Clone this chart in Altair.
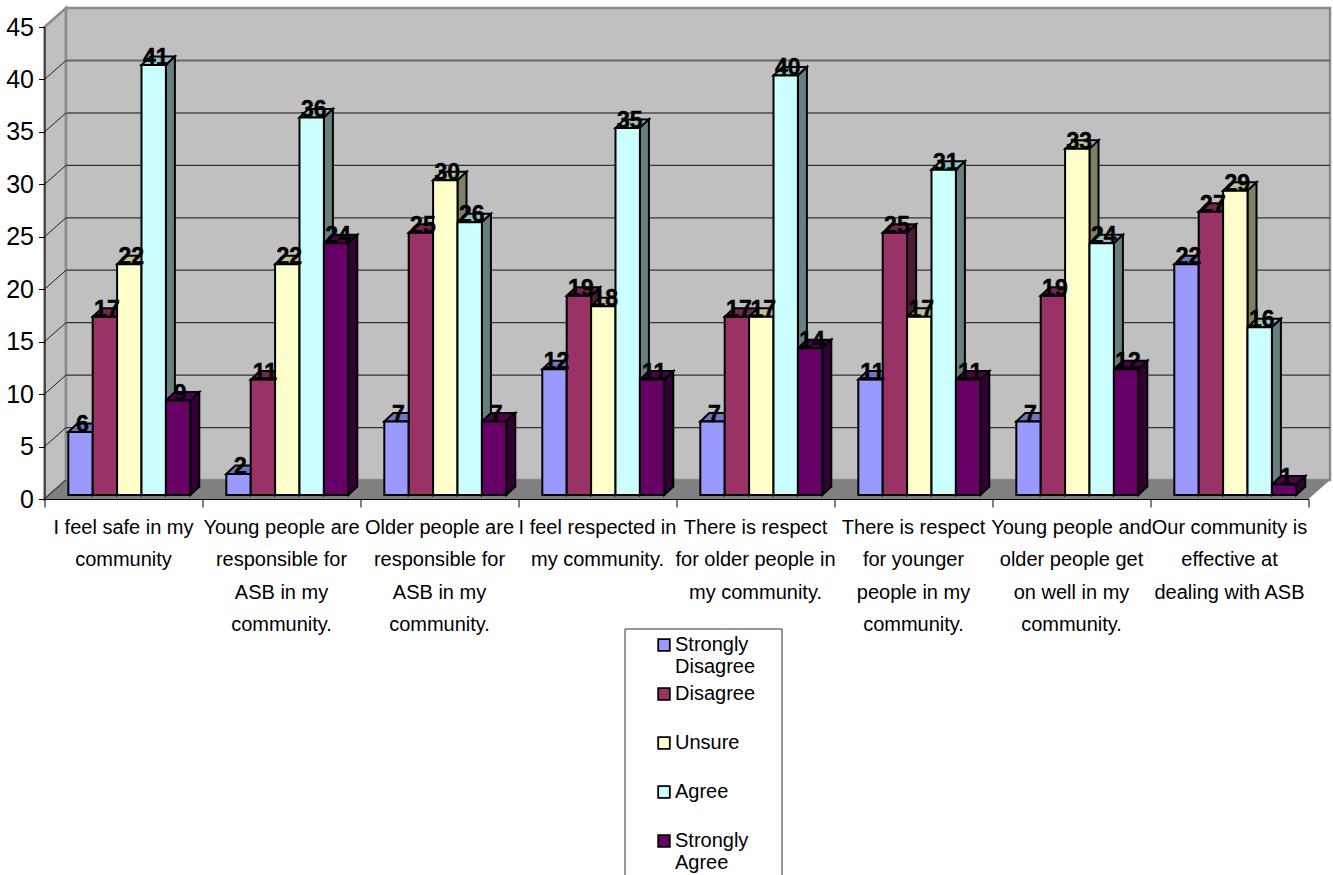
import altair as alt
import pandas as pd

categories = [
    "I feel safe in my\ncommunity",
    "Young people are\nresponsible for\nASB in my\ncommunity.",
    "Older people are\nresponsible for\nASB in my\ncommunity.",
    "I feel respected in\nmy community.",
    "There is respect\nfor older people in\nmy community.",
    "There is respect\nfor younger\npeople in my\ncommunity.",
    "Young people and\nolder people get\non well in my\ncommunity.",
    "Our community is\neffective at\ndealing with ASB",
]
series_names = ["Strongly Disagree", "Disagree", "Unsure", "Agree", "Strongly Agree"]
strongly_disagree = [6, 2, 7, 12, 7, 11, 7, 22]
disagree = [17, 11, 25, 19, 17, 25, 19, 27]
unsure = [22, 22, 30, 18, 17, 17, 33, 29]
agree = [41, 36, 26, 35, 40, 31, 24, 16]
strongly_agree = [9, 24, 7, 11, 14, 11, 12, 1]
series_values = [strongly_disagree, disagree, unsure, agree, strongly_agree]

front_colors = ["#9999FF", "#993366", "#FFFFCC", "#CCFFFF", "#660066"]
top_colors = ["#7373BF", "#732650", "#BFBF99", "#99BFBF", "#4D004D"]
side_colors = ["#4D4D80", "#4D1A33", "#808066", "#668080", "#330033"]

FONT = "Liberation Sans"
PX_X = 1264 / 8      # pixels per category
PX_Y = 472 / 45      # pixels per unit on the value axis

# Depth of the room and of the bars, in axis units
WALL_DX, WALL_DY = 21.5 / PX_X, 19 / PX_Y
BAR_DX, BAR_DY = 9 / PX_X, 8.5 / PX_Y
BAR_LIFT = 4 / PX_Y
BAR_START, BAR_W = 23.8 / PX_X, 24.4 / PX_X

x_scale = alt.Scale(domain=[0, 8], nice=False, zero=False)
y_scale = alt.Scale(domain=[0, 45], nice=False, zero=False)
ticks = list(range(0, 50, 5))

x_axis = alt.Axis(
    values=list(range(9)), labels=False, title=None, grid=False, tickSize=8, tickColor="black",
    tickWidth=1, domainColor="black", zindex=1,
)
y_axis = alt.Axis(
    values=ticks, title=None, grid=False, tickSize=6, tickColor="black", tickWidth=1, domainColor="black",
    labelFont=FONT, labelFontSize=25, labelColor="black", labelPadding=5, zindex=1,
)
X = alt.X("x:Q", scale=x_scale, axis=x_axis)
Y = alt.Y("y:Q", scale=y_scale, axis=y_axis, stack=None)

fronts, faces, labels = [], [], []
for s, (name, values) in enumerate(zip(series_names, series_values)):
    for i, v in enumerate(values):
        left = i + BAR_START + s * BAR_W
        right = left + BAR_W
        low = BAR_LIFT
        high = v + BAR_LIFT
        fronts.append(dict(series=name, x=left, x2=right, y=low, y2=high))
        labels.append(dict(x=(left + right) / 2, y=high, text=str(v)))
        key = f"{s}-{i}"
        for px, py, py2 in [
            (left, high, high),
            (left + BAR_DX, high + BAR_DY, high),
            (right, high + BAR_DY, high),
            (right + BAR_DX, high + BAR_DY, high + BAR_DY),
        ]:
            faces.append(dict(id=key + "t", color=top_colors[s], x=px, y=py, y2=py2))
        for px, py, py2 in [
            (right, high, low),
            (right + BAR_DX, high + BAR_DY, low + BAR_DY),
        ]:
            faces.append(dict(id=key + "s", color=side_colors[s], x=px, y=py, y2=py2))

# Room: left wall and back wall
room = pd.DataFrame(
    [
        dict(id="left", x=0, y=45, y2=0),
        dict(id="left", x=WALL_DX, y=45 + WALL_DY, y2=WALL_DY),
        dict(id="back", x=WALL_DX, y=45 + WALL_DY, y2=WALL_DY),
        dict(id="back", x=8 + WALL_DX, y=45 + WALL_DY, y2=WALL_DY),
    ]
)
room_layer = (
    alt.Chart(room)
    .mark_area(color="#C0C0C0", stroke="#8C8C8C", strokeWidth=2.5)
    .encode(X, Y, y2="y2:Q", detail="id:N")
)
floor = pd.DataFrame(
    [
        dict(x=0, y=0, y2=0),
        dict(x=WALL_DX, y=WALL_DY, y2=0),
        dict(x=8, y=WALL_DY, y2=0),
        dict(x=8 + WALL_DX, y=WALL_DY, y2=WALL_DY),
    ]
)
floor_layer = alt.Chart(floor).mark_area(color="#808080").encode(X, Y, y2="y2:Q")

# Gridlines on the back wall and their continuation across the left wall
thin = pd.DataFrame([dict(x=WALL_DX, x2=8 + WALL_DX, y=t + WALL_DY) for t in ticks if 0 < t < 35])
thick = pd.DataFrame([dict(x=WALL_DX, x2=8 + WALL_DX, y=t + WALL_DY) for t in (35, 40)])
thin_layer = alt.Chart(thin).mark_rule(color="#333333", strokeWidth=1.2).encode(X, x2="x2:Q", y=Y)
thick_layer = alt.Chart(thick).mark_rule(color="#696969", strokeWidth=2).encode(X, x2="x2:Q", y=Y)
diag = pd.DataFrame(
    [dict(t=t, x=0, y=t) for t in ticks if t < 45] + [dict(t=t, x=WALL_DX, y=t + WALL_DY) for t in ticks if t < 45]
)
diag_layer = alt.Chart(diag).mark_line(color="#222222", strokeWidth=1).encode(X, Y, detail="t:N")

# Top and side faces of the bars
face_layer = (
    alt.Chart(pd.DataFrame(faces))
    .mark_area(stroke="black", strokeWidth=2)
    .encode(X, Y, y2="y2:Q", detail="id:N", fill=alt.Fill("color:N", scale=None))
)

# Frame behind the legend; it runs off the bottom of the page
legend_frame = (
    alt.Chart(pd.DataFrame([dict(k=1)]))
    .mark_rect(fill="white", stroke="#333333", strokeWidth=1)
    .encode(x=alt.value(625 - 44.5), x2=alt.value(782 - 44.5), y=alt.value(629 - 27), y2=alt.value(890 - 27))
)

# Front faces carry the legend
front_layer = (
    alt.Chart(pd.DataFrame(fronts))
    .mark_rect(stroke="black", strokeWidth=2)
    .encode(
        X,
        x2="x2:Q",
        y=Y,
        y2="y2:Q",
        fill=alt.Fill(
            "series:N",
            scale=alt.Scale(domain=series_names, range=front_colors),
            sort=series_names,
            legend=alt.Legend(
                title=None,
                orient="none",
                legendX=664 - 10 - 44.5,
                legendY=608,
                symbolType="square",
                symbolSize=135,
                symbolStrokeColor="black",
                symbolStrokeWidth=1.8,
                symbolOpacity=1,
                padding=0,
                labelFont=FONT,
                labelFontSize=20,
                labelColor="black",
                labelLimit=200,
                labelOffset=1,
                labelExpr="split(datum.label, ' ')",
                gridAlign="all",
                rowPadding=7,
                offset=0,
            ),
        ),
    )
)

# Value labels above each bar
label_layer = (
    alt.Chart(pd.DataFrame(labels))
    .mark_text(font=FONT, fontSize=23, fontWeight="bold", color="black", stroke="black", strokeWidth=0.5, dx=2, baseline="alphabetic")
    .encode(X, Y, text="text:N")
)

# Category captions under the axis
captions = pd.DataFrame([dict(x=i + 0.5, y=0, text=c) for i, c in enumerate(categories)])
caption_layer = (
    alt.Chart(captions)
    .mark_text(font=FONT, fontSize=20, color="black", baseline="middle", dy=29, lineBreak="\n", lineHeight=32.4)
    .encode(X, Y, text="text:N")
)

chart = (
    alt.layer(
        room_layer, floor_layer, thin_layer, thick_layer, diag_layer, face_layer, legend_frame, front_layer,
        label_layer, caption_layer,
    )
    .properties(
        width=1264,
        height=472,
        padding={"left": 44.5, "top": 27, "right": 24.5, "bottom": 376},
        autosize=alt.AutoSizeParams(type="none"),
        background="white",
    )
    .configure_view(stroke=None)
)

chart.save("out.html", embed_options={"renderer": "svg", "actions": False})
